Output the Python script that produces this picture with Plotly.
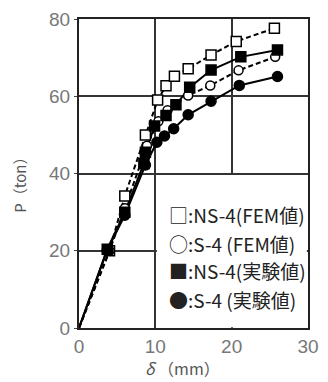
import plotly.graph_objects as go

# NS-4 FEM (open squares, dashed)
ns4_fem_x = [0, 4.0, 6.0, 8.7, 10.3, 11.4, 12.5, 14.3, 17.3, 20.6, 25.6]
ns4_fem_y = [0, 20.0, 34.2, 50.0, 59.0, 62.7, 65.2, 67.1, 70.7, 74.2, 77.6]
# S-4 FEM (open circles, dashed)
s4_fem_x = [0, 4.0, 6.0, 8.9, 10.4, 11.6, 14.3, 17.2, 20.9, 25.7]
s4_fem_y = [0, 20.0, 31.0, 47.2, 53.5, 56.4, 60.2, 62.8, 66.7, 70.2]
# NS-4 experiment (filled squares, solid)
ns4_exp_x = [0, 3.7, 6.0, 8.5, 8.7, 9.9, 11.4, 12.7, 14.5, 17.3, 21.2, 26.0]
ns4_exp_y = [0, 20.4, 30.0, 42.6, 45.5, 52.3, 55.0, 57.8, 62.3, 66.8, 70.2, 72.0]
# S-4 experiment (filled circles, solid)
s4_exp_x = [0, 3.7, 6.0, 8.7, 10.2, 11.2, 12.4, 14.3, 17.3, 21.0, 26.0]
s4_exp_y = [0, 20.2, 29.2, 42.2, 48.1, 49.7, 51.6, 55.2, 58.7, 62.8, 65.1]

legend_labels = ["□:NS-4(FEM値)", "○:S-4 (FEM値)", "■:NS-4(実験値)", "●:S-4 (実験値)"]
x_ticks = [0, 10, 20, 30]
y_ticks = [0, 20, 40, 60, 80]

fig = go.Figure()

traces = [
    (ns4_fem_x, ns4_fem_y, "square-open", "dash", 10),
    (s4_fem_x, s4_fem_y, "circle-open", "dash", 9),
    (ns4_exp_x, ns4_exp_y, "square", "solid", 10),
    (s4_exp_x, s4_exp_y, "circle", "solid", 10),
]
for xs, ys, sym, dash, size in traces:
    fig.add_trace(go.Scatter(x=xs, y=ys, mode="lines", showlegend=False,
                             line=dict(color="black", width=2,
                                       dash="5px,3px" if dash == "dash" else "solid")))
for xs, ys, sym, dash, size in traces:
    is_open = "open" in sym
    fig.add_trace(go.Scatter(
        x=xs[1:], y=ys[1:], mode="markers", showlegend=False,
        marker=dict(symbol=sym.replace("-open", ""), size=size,
                    color="white" if is_open else "black",
                    line=dict(color="black", width=1.5))))

# white legend box covering grid
fig.add_shape(type="rect", xref="x", yref="y", x0=10.2, x1=29.85, y0=0.2, y1=39.6,
              fillcolor="white", line=dict(width=0), layer="between")

leg_y = [29.4, 21.9, 14.8, 7.3]
for lab, yy in zip(legend_labels, leg_y):
    fig.add_annotation(x=11.5, y=yy, xref="x", yref="y", text=lab, showarrow=False,
                       xanchor="left", yanchor="middle",
                       font=dict(family="Noto Sans CJK JP", size=19, color="#222"))

fig.add_annotation(x=-0.26, y=0.475, xref="paper", yref="paper", text="P（ton）",
                   showarrow=False, xanchor="center", yanchor="middle",
                   textangle=-90, font=dict(family="Noto Sans CJK JP", size=15, color="#555"))
fig.add_annotation(x=0.45, y=-0.128, xref="paper", yref="paper",
                   text="<i>δ</i> （mm）", showarrow=False, yanchor="middle",
                   font=dict(family="Noto Sans CJK JP", size=16, color="#555"))

fig.update_layout(
    width=328, height=382,
    margin=dict(l=79, r=10, t=9, b=54),
    paper_bgcolor="white", plot_bgcolor="white",
    font=dict(family="Liberation Sans", color="#555"),
)

fig.update_xaxes(range=[0, 30], tickvals=x_ticks, showgrid=True, gridcolor="#333", gridwidth=1.5,
                 zeroline=False, showline=True, linecolor="#222", linewidth=2, mirror=True,
                 ticks="", tickfont=dict(size=19, color="#777"))
fig.update_yaxes(range=[0, 80], tickvals=y_ticks, showgrid=True, gridcolor="#333", gridwidth=1.5,
                 zeroline=False, showline=True, linecolor="#222", linewidth=2, mirror=True,
                 ticks="outside", ticklen=3, tickcolor="#444", tickfont=dict(size=19, color="#777"))

fig.write_html("out.html")
